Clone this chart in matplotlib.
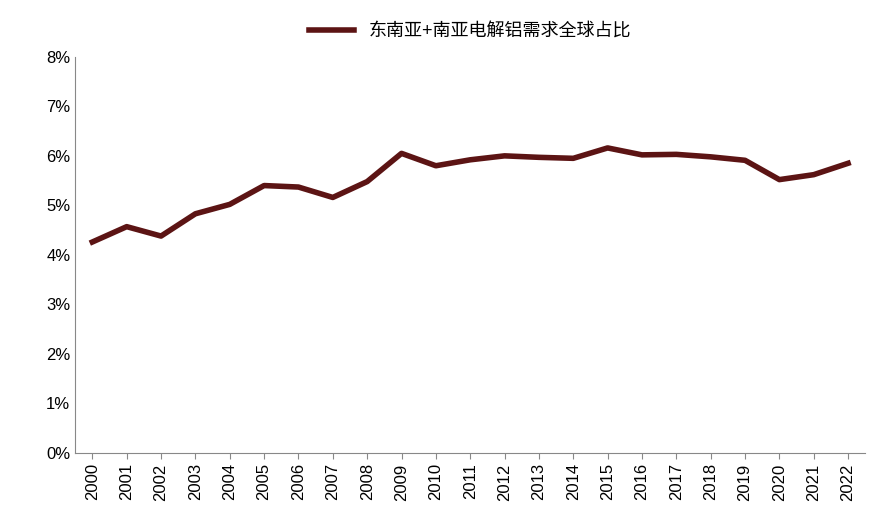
import matplotlib.pyplot as plt
from matplotlib.ticker import FuncFormatter

plt.rcParams['font.family'] = ['Liberation Sans', 'Noto Sans CJK SC']

years = [str(y) for y in range(2000, 2023)]
share = [4.26, 4.57, 4.38, 4.83, 5.02, 5.40, 5.37, 5.16, 5.48, 6.05, 5.80, 5.92,
         6.00, 5.97, 5.95, 6.16, 6.02, 6.03, 5.98, 5.91, 5.52, 5.62, 5.85]
series_name = "东南亚+南亚电解铝需求全球占比"

fig = plt.figure(figsize=(8.74, 5.31), dpi=100)
ax = fig.add_axes([0.086, 0.147, 0.904, 0.746])
ax.plot(years, share, color='#5c1414', linewidth=4, label=series_name)

ax.set_ylim(0, 8)
ax.set_yticks(range(0, 9))
ax.yaxis.set_major_formatter(FuncFormatter(lambda v, p: f"{v:.0f}%"))
ax.set_xlim(-0.5, len(years) - 0.5)
ax.tick_params(axis='x', rotation=90, labelsize=12, length=4, color='#888888')
ax.tick_params(axis='y', labelsize=12, length=0)
for s in ['top', 'right']:
    ax.spines[s].set_visible(False)
for s in ['left', 'bottom']:
    ax.spines[s].set_color('#888888')

ax.legend(loc='lower center', bbox_to_anchor=(0.5, 1.0), frameon=False,
          fontsize=13, handlelength=2.5)

plt.savefig('out.png')
